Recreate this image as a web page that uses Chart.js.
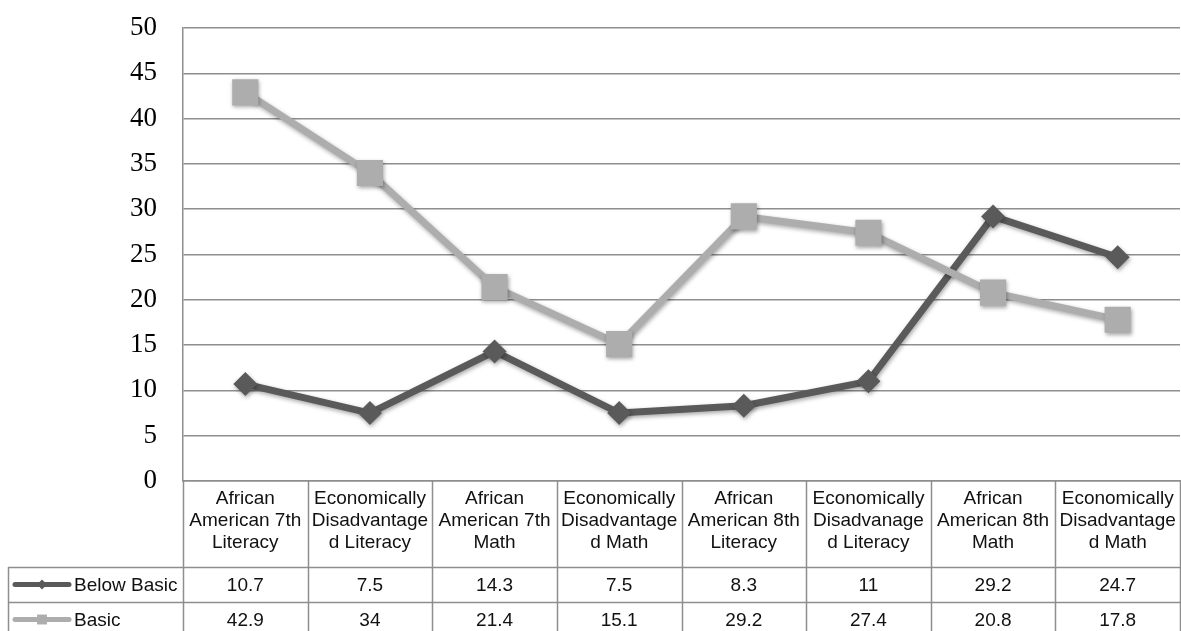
<!DOCTYPE html>
<html>
<head>
<meta charset="utf-8">
<script src="https://cdn.jsdelivr.net/npm/chart.js@4/dist/chart.umd.min.js"></script>
<style>
  html, body { margin: 0; padding: 0; background: #fff; overflow: hidden; }
  #wrap { width: 1181px; height: 631px; overflow: hidden; }
  canvas { display: block; }
</style>
</head>
<body>
<div id="wrap"><canvas id="c" width="1181" height="631"></canvas></div>
<script>
// ---- data ----
const categories = [
  ["African", "American 7th", "Literacy"],
  ["Economically", "Disadvantage", "d Literacy"],
  ["African", "American 7th", "Math"],
  ["Economically", "Disadvantage", "d Math"],
  ["African", "American 8th", "Literacy"],
  ["Economically", "Disadvanage", "d Literacy"],
  ["African", "American 8th", "Math"],
  ["Economically", "Disadvantage", "d Math"]
];
const seriesNames = ["Below Basic", "Basic"];
const belowBasic = [10.7, 7.5, 14.3, 7.5, 8.3, 11, 29.2, 24.7];
const basic = [42.9, 34, 21.4, 15.1, 29.2, 27.4, 20.8, 17.8];
const valueLabels = [
  ["10.7", "7.5", "14.3", "7.5", "8.3", "11", "29.2", "24.7"],
  ["42.9", "34", "21.4", "15.1", "29.2", "27.4", "20.8", "17.8"]
];
const yTicks = [0, 5, 10, 15, 20, 25, 30, 35, 40, 45, 50];

// ---- styles ----
const DARK = '#5a5a5a';
const LIGHT = '#adadad';
const GRID = '#8e8e8e';
const TABLE_FONT = '19px "Liberation Sans", Arial, sans-serif';

const shadowPlugin = {
  id: 'shadow',
  beforeDatasetDraw(chart) {
    const ctx = chart.ctx;
    ctx.save();
    ctx.shadowColor = 'rgba(0,0,0,0.35)';
    ctx.shadowBlur = 4;
    ctx.shadowOffsetX = 1;
    ctx.shadowOffsetY = 2;
  },
  afterDatasetDraw(chart) {
    chart.ctx.restore();
  }
};

const tablePlugin = {
  id: 'dataTable',
  afterDraw(chart) {
    const ctx = chart.ctx;
    const xs = chart.scales.x;
    const area = chart.chartArea;
    const n = categories.length;
    const colW = (area.right - area.left) / n;
    const top = area.bottom;
    const headerBottom = top + 86;
    const rowH = 35;
    const legendLeft = 8;
    const bottom = chart.height + 5;

    ctx.save();
    ctx.strokeStyle = GRID;
    ctx.lineWidth = 1.5;
    ctx.beginPath();
    for (let i = 0; i <= n; i++) {
      const x = Math.round(area.left + i * colW) + 0.5;
      ctx.moveTo(x, top);
      ctx.lineTo(x, bottom);
    }
    ctx.moveTo(legendLeft + 0.5, headerBottom);
    ctx.lineTo(legendLeft + 0.5, bottom);
    for (let r = 0; r < 2; r++) {
      const y = Math.round(headerBottom + r * rowH) + 0.5;
      ctx.moveTo(legendLeft, y);
      ctx.lineTo(area.right, y);
    }
    ctx.stroke();

    ctx.fillStyle = '#111';
    ctx.font = TABLE_FONT;
    ctx.textAlign = 'center';
    ctx.textBaseline = 'middle';
    for (let i = 0; i < n; i++) {
      const cx = xs.getPixelForValue(i);
      const lines = categories[i];
      const lh = 22;
      const cy = (top + headerBottom) / 2 - 3;
      lines.forEach((t, k) => {
        ctx.fillText(t, cx, cy + (k - (lines.length - 1) / 2) * lh);
      });
    }
    for (let r = 0; r < 2; r++) {
      const cy = headerBottom + r * rowH + rowH / 2 + 1;
      for (let i = 0; i < n; i++) {
        ctx.fillText(valueLabels[r][i], xs.getPixelForValue(i), cy);
      }
    }
    const ds = chart.data.datasets;
    for (let r = 0; r < 2; r++) {
      const cy = headerBottom + r * rowH + rowH / 2;
      const d = ds[r];
      ctx.strokeStyle = d.borderColor;
      ctx.lineWidth = 5;
      ctx.lineCap = 'round';
      ctx.beginPath();
      ctx.moveTo(15, cy);
      ctx.lineTo(69, cy);
      ctx.stroke();
      ctx.fillStyle = d.backgroundColor;
      Chart.helpers.drawPoint(ctx, {
        pointStyle: d.pointStyle,
        radius: r === 0 ? 5 : 7,
        rotation: 0,
        borderWidth: 0
      }, 42, cy);
      ctx.fillStyle = '#111';
      ctx.textAlign = 'left';
      ctx.fillText(seriesNames[r], 74, cy + 1);
    }
    ctx.restore();
  }
};

function zeroPad(scale) {
  scale.paddingTop = 0; scale.paddingBottom = 0;
  scale.paddingLeft = 0; scale.paddingRight = 0;
}

new Chart(document.getElementById('c'), {
  type: 'line',
  data: {
    labels: categories.map(c => c.join(' ')),
    datasets: [
      {
        label: seriesNames[0],
        data: belowBasic,
        borderColor: DARK,
        backgroundColor: DARK,
        borderWidth: 7,
        pointStyle: 'rectRot',
        pointRadius: 12,
        pointBorderWidth: 0,
        pointBackgroundColor: DARK,
        tension: 0,
        order: 1
      },
      {
        label: seriesNames[1],
        data: basic,
        borderColor: LIGHT,
        backgroundColor: LIGHT,
        borderWidth: 7,
        pointStyle: 'rect',
        pointRadius: 18.5,
        pointBorderWidth: 0,
        pointBackgroundColor: LIGHT,
        tension: 0,
        order: 0
      }
    ]
  },
  options: {
    responsive: false,
    animation: false,
    devicePixelRatio: 1,
    layout: { autoPadding: false, padding: { top: 28, right: 1, left: 0, bottom: 0 } },
    plugins: {
      legend: { display: false },
      tooltip: { enabled: false }
    },
    elements: { line: { borderJoinStyle: 'miter', borderCapStyle: 'butt' } },
    scales: {
      x: {
        type: 'category',
        offset: true,
        grid: { display: false },
        border: { display: true, color: GRID, width: 1.5 },
        ticks: { display: false },
        afterFit(scale) { scale.height = 150; zeroPad(scale); }
      },
      y: {
        min: 0,
        max: 50,
        afterBuildTicks(scale) { scale.ticks = yTicks.map(v => ({ value: v })); },
        ticks: {
          color: '#000',
          padding: 26,
          font: { family: '"Liberation Serif", "Times New Roman", serif', size: 27 }
        },
        grid: { color: GRID, lineWidth: 1.5, drawTicks: false },
        border: { display: true, color: GRID, width: 1.5 },
        afterFit(scale) { scale.width = 183; zeroPad(scale); }
      }
    }
  },
  plugins: [shadowPlugin, tablePlugin]
});
</script>
</body>
</html>
